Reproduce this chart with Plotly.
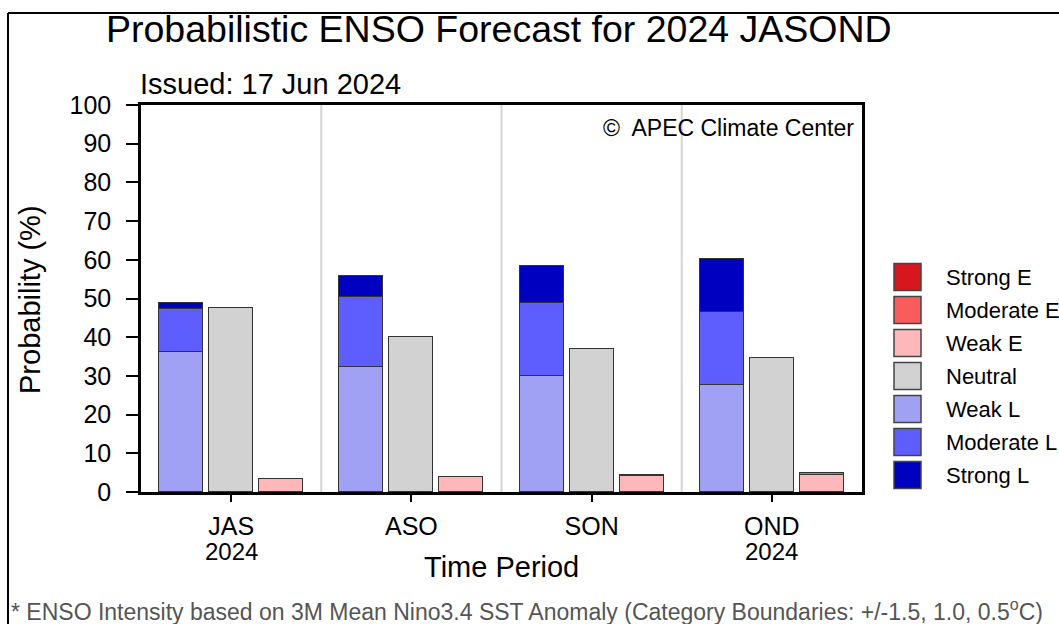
import plotly.graph_objects as go

# Forecast periods (3-month seasons) and the year printed under first/last
periods = ["JAS", "ASO", "SON", "OND"]
period_years = ["2024", "", "", "2024"]

# Category probabilities (%) per period
weak_l = [36.2, 32.4, 30.0, 27.7]
moderate_l = [11.1, 17.9, 18.8, 18.9]
strong_l = [1.6, 5.6, 9.6, 13.6]
neutral = [47.5, 40.0, 37.0, 34.6]
weak_e = [3.4, 4.0, 4.2, 4.4]
moderate_e = [0.0, 0.0, 0.2, 0.6]
strong_e = [0.0, 0.0, 0.0, 0.0]

legend_names = ["Strong E", "Moderate E", "Weak E", "Neutral",
                "Weak L", "Moderate L", "Strong L"]
colors = {
    "Strong E": "#d7161e",
    "Moderate E": "#fa5c5c",
    "Weak E": "#ffb8ba",
    "Neutral": "#d2d2d2",
    "Weak L": "#a0a0f5",
    "Moderate L": "#5e5eff",
    "Strong L": "#0000c0",
}

FONT = "Liberation Sans, Arial, Helvetica, sans-serif"
W, H = 1059, 624
ML, MR, MT, MB = 141, 197, 105, 132
PW, PH = W - ML - MR, H - MT - MB


def px(x):
    return (x - ML) / PW


def py(y):
    return (H - MB - y) / PH


idx = list(range(len(periods)))
off = 0.278
bw = 0.244
edge = dict(color="#333333", width=1.5)

fig = go.Figure()
stacks = [
    ("Weak L", weak_l, -off), ("Moderate L", moderate_l, -off), ("Strong L", strong_l, -off),
    ("Neutral", neutral, 0.0),
    ("Weak E", weak_e, off), ("Moderate E", moderate_e, off), ("Strong E", strong_e, off),
]
for name, vals, dx in stacks:
    # skip empty categories so no flat outline is drawn on the axis
    xs = [i + dx for i, v in zip(idx, vals) if v > 0]
    ys = [v for v in vals if v > 0]
    if not ys:
        continue
    fig.add_trace(go.Bar(
        x=xs, y=ys, width=bw, name=name,
        marker=dict(color=colors[name], line=edge), showlegend=False,
    ))

shapes = []
# light separators between periods
for i in idx[:-1]:
    shapes.append(dict(type="line", xref="x", yref="y", x0=i + 0.5, x1=i + 0.5,
                       y0=0, y1=100, line=dict(color="#d4d4d4", width=2), layer="below"))
# outer frame (top and left edges)
shapes.append(dict(type="line", xref="paper", yref="paper", x0=px(8), x1=px(1059),
                   y0=py(13), y1=py(13), line=dict(color="black", width=2)))
shapes.append(dict(type="line", xref="paper", yref="paper", x0=px(8), x1=px(8),
                   y0=py(13), y1=py(624), line=dict(color="black", width=2)))

annotations = []
# legend swatches and labels
for k, name in enumerate(legend_names):
    cy = 277 + k * 33
    shapes.append(dict(type="rect", xref="paper", yref="paper",
                       x0=px(894), x1=px(921), y0=py(cy - 13.5), y1=py(cy + 13.5),
                       fillcolor=colors[name], line=dict(color="#444444", width=1.5)))
    annotations.append(dict(text=name, xref="paper", yref="paper", x=px(944), y=py(cy),
                            xanchor="left", yanchor="middle", showarrow=False,
                            font=dict(size=22, color="black", family=FONT)))

# year line under tick labels
for i, yr in zip(idx, period_years):
    if yr:
        annotations.append(dict(text=yr, xref="x", yref="paper", x=i, y=py(551),
                                xanchor="center", yanchor="middle", showarrow=False,
                                font=dict(size=24, color="black", family=FONT)))

annotations += [
    dict(text="Probabilistic ENSO Forecast for 2024 JASOND", xref="paper", yref="paper",
         x=px(499), y=py(29), xanchor="center", yanchor="middle", showarrow=False,
         font=dict(size=37.5, color="black", family=FONT)),
    dict(text="Issued: 17 Jun 2024", xref="paper", yref="paper",
         x=px(138), y=py(84), xanchor="left", yanchor="middle", showarrow=False,
         font=dict(size=29, color="black", family=FONT)),
    dict(text="©  APEC Climate Center", xref="paper", yref="paper",
         x=px(856), y=py(128), xanchor="right", yanchor="middle", showarrow=False,
         font=dict(size=23, color="black", family=FONT)),
    dict(text="Time Period", xref="paper", yref="paper",
         x=px(501), y=py(567), xanchor="center", yanchor="middle", showarrow=False,
         font=dict(size=29, color="black", family=FONT)),
    dict(text="Probability (%)", xref="paper", yref="paper", textangle=-90,
         x=px(30), y=py(300), xanchor="center", yanchor="middle", showarrow=False,
         font=dict(size=29, color="black", family=FONT)),
    dict(text="* ENSO Intensity based on 3M Mean Nino3.4 SST Anomaly "
              "(Category Boundaries: +/-1.5, 1.0, 0.5<sup>o</sup>C)",
         xref="paper", yref="paper", x=px(9), y=py(610), xanchor="left", yanchor="middle",
         showarrow=False, font=dict(size=23, color="#555555", family=FONT)),
]

fig.update_layout(
    width=W, height=H,
    margin=dict(l=ML, r=MR, t=MT, b=MB),
    barmode="stack",
    bargap=0,
    plot_bgcolor="white",
    paper_bgcolor="white",
    font=dict(family=FONT, color="black"),
    shapes=shapes,
    annotations=annotations,
    showlegend=False,
)
fig.update_xaxes(
    range=[-0.5, 3.5], tickmode="array", tickvals=idx, ticktext=periods,
    showline=True, linecolor="black", linewidth=2.5, mirror=True,
    ticks="outside", ticklen=7, tickwidth=2, tickcolor="black",
    showgrid=False, zeroline=False, tickfont=dict(size=25, family=FONT),
    ticklabelstandoff=3,
)
fig.update_yaxes(
    range=[0, 100], dtick=10, tick0=0,
    showline=True, linecolor="black", linewidth=2.5, mirror=True,
    ticks="outside", ticklen=12, tickwidth=2, tickcolor="black",
    showgrid=False, zeroline=False, tickfont=dict(size=25, family=FONT),
    ticklabelstandoff=10,
)

fig.write_html("out.html")
